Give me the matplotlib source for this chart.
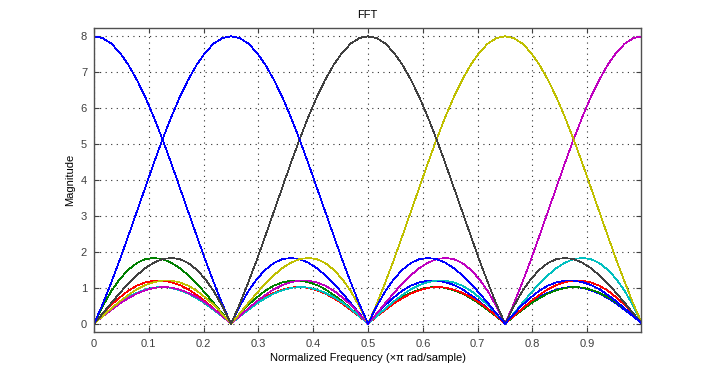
import numpy as np
import matplotlib
matplotlib.use("Agg")
import matplotlib.pyplot as plt

# Normalized frequency grid (x pi rad/sample), 65 samples from 0 to 1
freq = np.linspace(0.0, 1.0, 65)

# Magnitude responses (one list per curve)
mag_k0_blue = [8.00,7.95,7.80,7.55,7.21,6.79,6.30,5.74,5.13,4.48,3.80,3.12,2.44,1.77,1.14,0.54,0.00,
               0.48,0.90,1.24,1.50,1.69,1.80,1.83,1.80,1.70,1.55,1.35,1.12,0.85,0.57,0.28,0.00,
               0.27,0.52,0.73,0.92,1.06,1.15,1.20,1.20,1.16,1.08,0.96,0.80,0.62,0.42,0.21,0.00,
               0.21,0.41,0.59,0.74,0.86,0.95,1.01,1.02,1.00,0.93,0.84,0.71,0.56,0.38,0.20,0.00]

mag_k7_green = [0.00,0.48,0.90,1.24,1.50,1.69,1.80,1.83,1.80,1.70,1.55,1.35,1.12,0.85,0.57,0.28,
                0.00,0.27,0.52,0.73,0.92,1.06,1.15,1.20,1.20,1.16,1.08,0.96,0.80,0.62,0.42,0.21,
                0.00,0.21,0.41,0.59,0.74,0.86,0.95,1.01,1.02,1.00,0.93,0.84,0.71,0.56,0.38,0.20,
                0.00,0.20,0.38,0.56,0.71,0.84,0.93,1.00,1.02,1.01,0.95,0.86,0.74,0.59,0.41,0.21,0.00]

mag_k6_red = [0.00,0.27,0.52,0.73,0.92,1.06,1.15,1.20,1.20,1.16,1.08,0.96,0.80,0.62,0.42,0.21,
              0.00,0.21,0.41,0.59,0.74,0.86,0.95,1.01,1.02,1.00,0.93,0.84,0.71,0.56,0.38,0.20,0.00,
              0.20,0.38,0.56,0.71,0.84,0.93,1.00,1.02,1.01,0.95,0.86,0.74,0.59,0.41,0.21,
              0.00,0.21,0.42,0.62,0.80,0.96,1.08,1.16,1.20,1.20,1.15,1.06,0.92,0.73,0.52,0.27,0.00]

mag_k5_cyan = [0.00,0.21,0.41,0.59,0.74,0.86,0.95,1.01,1.02,1.00,0.93,0.84,0.71,0.56,0.38,0.20,0.00,
               0.20,0.38,0.56,0.71,0.84,0.93,1.00,1.02,1.01,0.95,0.86,0.74,0.59,0.41,0.21,
               0.00,0.21,0.42,0.62,0.80,0.96,1.08,1.16,1.20,1.20,1.15,1.06,0.92,0.73,0.52,0.27,
               0.00,0.28,0.57,0.85,1.12,1.35,1.55,1.70,1.80,1.83,1.80,1.69,1.50,1.24,0.90,0.48,0.00]

mag_k4_magenta = [0.00,0.20,0.38,0.56,0.71,0.84,0.93,1.00,1.02,1.01,0.95,0.86,0.74,0.59,0.41,0.21,
                  0.00,0.21,0.42,0.62,0.80,0.96,1.08,1.16,1.20,1.20,1.15,1.06,0.92,0.73,0.52,0.27,
                  0.00,0.28,0.57,0.85,1.12,1.35,1.55,1.70,1.80,1.83,1.80,1.69,1.50,1.24,0.90,0.48,
                  0.00,0.54,1.14,1.77,2.44,3.12,3.80,4.48,5.13,5.74,6.30,6.79,7.21,7.55,7.80,7.95,8.00]

mag_k3_yellow = [0.00,0.21,0.42,0.62,0.80,0.96,1.08,1.16,1.20,1.20,1.15,1.06,0.92,0.73,0.52,0.27,
                 0.00,0.28,0.57,0.85,1.12,1.35,1.55,1.70,1.80,1.83,1.80,1.69,1.50,1.24,0.90,0.48,
                 0.00,0.54,1.14,1.77,2.44,3.12,3.80,4.48,5.13,5.74,6.30,6.79,7.21,7.55,7.80,7.95,8.00,
                 7.95,7.80,7.55,7.21,6.79,6.30,5.74,5.13,4.48,3.80,3.12,2.44,1.77,1.14,0.54,0.00]

mag_k2_black = [0.00,0.28,0.57,0.85,1.12,1.35,1.55,1.70,1.80,1.83,1.80,1.69,1.50,1.24,0.90,0.48,
                0.00,0.54,1.14,1.77,2.44,3.12,3.80,4.48,5.13,5.74,6.30,6.79,7.21,7.55,7.80,7.95,8.00,
                7.95,7.80,7.55,7.21,6.79,6.30,5.74,5.13,4.48,3.80,3.12,2.44,1.77,1.14,0.54,0.00,
                0.48,0.90,1.24,1.50,1.69,1.80,1.83,1.80,1.70,1.55,1.35,1.12,0.85,0.57,0.28,0.00]

mag_k1_blue = [0.00,0.54,1.14,1.77,2.44,3.12,3.80,4.48,5.13,5.74,6.30,6.79,7.21,7.55,7.80,7.95,8.00,
               7.95,7.80,7.55,7.21,6.79,6.30,5.74,5.13,4.48,3.80,3.12,2.44,1.77,1.14,0.54,0.00,
               0.48,0.90,1.24,1.50,1.69,1.80,1.83,1.80,1.70,1.55,1.35,1.12,0.85,0.57,0.28,0.00,
               0.27,0.52,0.73,0.92,1.06,1.15,1.20,1.20,1.16,1.08,0.96,0.80,0.62,0.42,0.21,0.00]

series = [mag_k0_blue, mag_k7_green, mag_k6_red, mag_k5_cyan,
          mag_k4_magenta, mag_k3_yellow, mag_k2_black, mag_k1_blue]
colors = [(0, 0, 1), (0, 0.5, 0), (1, 0, 0), (0, 0.75, 0.75),
          (0.75, 0, 0.75), (0.75, 0.75, 0), (0.25, 0.25, 0.25), (0, 0, 1)]

xticks = [0, 0.1, 0.2, 0.3, 0.4, 0.5, 0.6, 0.7, 0.8, 0.9]
xticklabels = ["0", "0.1", "0.2", "0.3", "0.4", "0.5", "0.6", "0.7", "0.8", "0.9"]
yticks = [0, 1, 2, 3, 4, 5, 6, 7, 8]

plt.rcParams['font.family'] = ['Liberation Sans', 'DejaVu Sans']
plt.rcParams['font.size'] = 8

fig = plt.figure(figsize=(7.25, 3.73), dpi=100)
ax = fig.add_axes([94/725, 41/373, (641-94)/725, (332-28)/373])

for y, c in zip(series, colors):
    ax.plot(freq, y, color=c, lw=0.5, antialiased=False)

axcol = '#404040'
ax.set_xlim(0, 0.998)
ax.set_ylim(-0.23, 8.23)
ax.set_xticks(xticks)
ax.set_xticklabels(xticklabels)
ax.set_yticks(yticks)
ax.grid(True, linestyle=(0, (1, 4)), color='#303030', linewidth=0.8)
ax.tick_params(direction='in', length=3.5, width=0.8, colors=axcol, labelcolor=axcol,
               top=True, right=True, labelsize=8, pad=5)
for s in ax.spines.values():
    s.set_color('#505050')
    s.set_linewidth(1.0)

ax.set_title("FFT", fontsize=8, color='black', pad=7)
ax.set_xlabel("Normalized Frequency (\u00d7\u03c0 rad/sample)", fontsize=8, color='black', labelpad=3)
ax.set_ylabel("Magnitude", fontsize=8, color='black', labelpad=4)

fig.savefig("out.png", dpi=100)
